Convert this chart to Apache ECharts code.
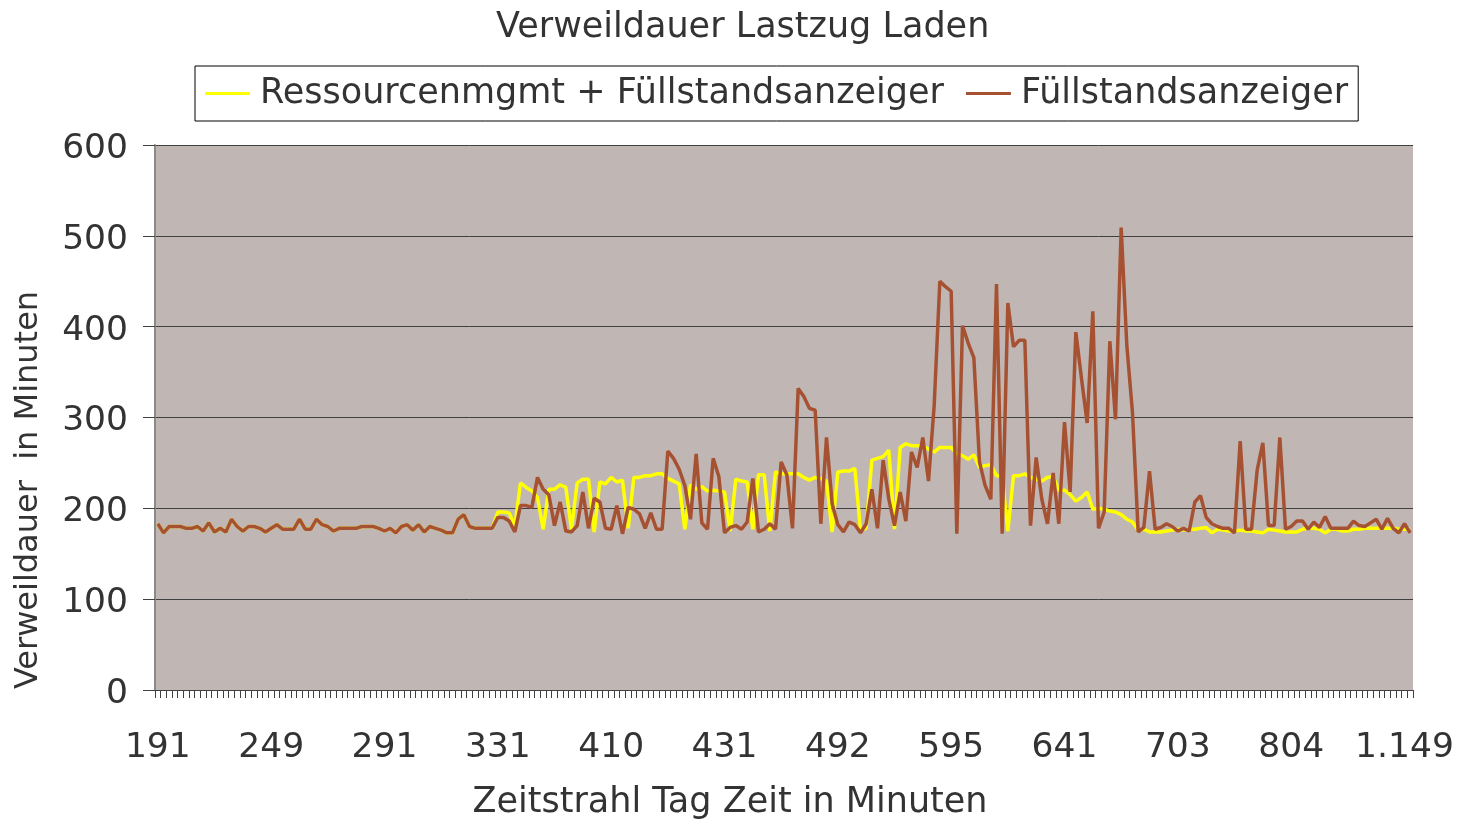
<!DOCTYPE html>
<html>
<head>
<meta charset="utf-8">
<script src="https://cdn.jsdelivr.net/npm/echarts@6/dist/echarts.min.js"></script>
<style>
html,body{margin:0;padding:0;background:#fff;}
#chart{width:1460px;height:820px;}
</style>
</head>
<body>
<div id="chart"></div>
<script>
// Visible tick labels (one every 20 categories)
const tickLabels = ['191','249','291','331','410','431','492','595','641','703','804','1.149'];
const categoryCount = 222;
const labelStep = 20;

const seriesNames = ['Ressourcenmgmt + Füllstandsanzeiger', 'Füllstandsanzeiger'];

// Füllstandsanzeiger (brown)
const fuellstand = [
183,173,180,180,180,178,178,180,175,184,
174,178,174,188,180,175,180,180,178,174,
178,182,177,177,177,188,177,177,188,182,
180,175,178,178,178,178,180,180,180,178,
175,178,173,180,182,176,182,174,180,178,
176,173,173,188,193,180,178,178,178,178,
190,190,186,174,203,203,201,234,221,215,
181,207,175,174,181,218,178,211,207,178,
177,203,172,201,199,194,178,195,177,177,
263,255,243,225,188,260,184,177,255,235,
173,179,181,177,185,233,174,177,183,177,
251,237,178,332,323,310,308,183,278,205,
182,174,185,182,173,183,221,178,253,210,
181,218,186,262,245,278,230,313,450,444,
439,172,401,382,366,251,225,210,447,172,
426,378,385,385,181,256,210,183,239,183,
295,218,394,343,294,417,178,196,384,298,
509,379,305,174,179,241,177,179,183,180,
175,178,175,207,214,190,183,180,178,178,
173,274,177,177,242,272,181,181,278,177,
180,186,186,177,185,179,191,178,178,178,
178,186,181,180,184,188,177,189,178,173,
183,173
];

// Ressourcenmgmt + Füllstandsanzeiger (yellow)
const ressourcen = [
183,173,180,180,180,178,178,180,175,184,
174,178,174,188,180,175,180,180,178,174,
178,182,177,177,177,188,177,177,188,182,
180,175,178,178,178,178,180,180,180,178,
175,178,173,180,182,176,182,174,180,178,
176,173,173,188,193,180,178,178,178,178,
196,196,195,180,228,223,219,212,177,221,
221,226,223,177,228,232,232,174,229,227,
234,229,231,178,234,234,236,236,238,238,
233,230,227,177,226,221,224,219,220,219,
218,175,232,230,229,177,237,237,175,240,
238,238,238,238,234,231,234,233,230,174,
240,241,241,244,176,178,253,255,257,264,
177,267,271,269,269,269,265,262,267,267,
267,260,258,254,259,245,247,248,236,236,
175,236,236,238,234,232,230,234,235,220,
220,215,208,212,218,199,200,199,197,196,
193,188,185,176,177,174,174,174,175,176,
177,176,177,177,178,179,173,177,176,175,
175,176,175,175,174,173,177,176,175,174,
174,174,177,178,178,177,173,177,177,175,
175,177,177,178,178,178,178,178,178,177,
177,177
];

const yTicks = {min: 0, max: 600, interval: 100};

const categories = [];
for (let i = 0; i < categoryCount; i++) {
  categories.push(i % labelStep === 0 ? tickLabels[i / labelStep] : '');
}

const font = 'DejaVu Sans';
const textColor = '#333333';
const yellow = '#FFFF00';
const brown = '#A65232';

const chart = echarts.init(document.getElementById('chart'));
chart.setOption({
  animation: false,
  backgroundColor: '#ffffff',
  title: {
    text: 'Verweildauer Lastzug Laden',
    left: 491,
    top: 5,
    textStyle: {fontFamily: font, fontSize: 35, fontWeight: 'normal', color: textColor}
  },
  legend: {
    left: 195,
    top: 66,
    backgroundColor: '#ffffff',
    borderColor: '#000000',
    borderWidth: 1,
    borderRadius: 0,
    padding: [10, 10, 10, 10],
    itemWidth: 45,
    itemHeight: 3,
    itemGap: 22,
    icon: 'rect',
    textStyle: {fontFamily: font, fontSize: 35, color: textColor, padding: [0, 0, 0, 5]},
    data: [
      {name: seriesNames[0], itemStyle: {color: yellow}},
      {name: seriesNames[1], itemStyle: {color: brown}}
    ]
  },
  grid: {
    left: 155, top: 145, right: 47, bottom: 130,
    show: true,
    backgroundColor: '#C0B7B4',
    borderWidth: 0
  },
  xAxis: {
    type: 'category',
    data: categories,
    boundaryGap: true,
    axisLine: {lineStyle: {color: '#404040', width: 1}},
    axisTick: {show: true, interval: 0, length: 8, lineStyle: {color: '#404040'}},
    axisLabel: {interval: labelStep - 1, fontFamily: font, fontSize: 34.5, color: textColor, margin: 41, hideOverlap: false}
  },
  yAxis: {
    type: 'value',
    min: yTicks.min, max: yTicks.max, interval: yTicks.interval,
    axisLine: {show: true, lineStyle: {color: '#8a8a8a', width: 2}},
    axisTick: {show: true, length: 12, lineStyle: {color: '#404040'}},
    axisLabel: {
      margin: 27,
      formatter: '{v|{value}}',
      rich: {v: {fontFamily: font, fontSize: 34.5, color: textColor, padding: [8, 0, 0, 0]}}
    },
    splitLine: {show: true, lineStyle: {color: '#404040', width: 1}}
  },
  graphic: [
    {
      type: 'text',
      x: 29, y: 490,
      rotation: Math.PI / 2,
      style: {text: 'Verweildauer  in Minuten', fontFamily: font, fontSize: 32, fill: textColor, align: 'center', verticalAlign: 'middle'}
    },
    {
      type: 'text',
      x: 730, y: 803,
      style: {text: 'Zeitstrahl Tag Zeit in Minuten', fontFamily: font, fontSize: 35, fill: textColor, align: 'center', verticalAlign: 'middle'}
    }
  ],
  series: [
    {
      name: seriesNames[0], type: 'line', data: ressourcen,
      symbol: 'none', lineStyle: {color: yellow, width: 3.5}, itemStyle: {color: yellow}
    },
    {
      name: seriesNames[1], type: 'line', data: fuellstand,
      symbol: 'none', lineStyle: {color: brown, width: 3.5}, itemStyle: {color: brown}
    }
  ]
});
</script>
</body>
</html>
